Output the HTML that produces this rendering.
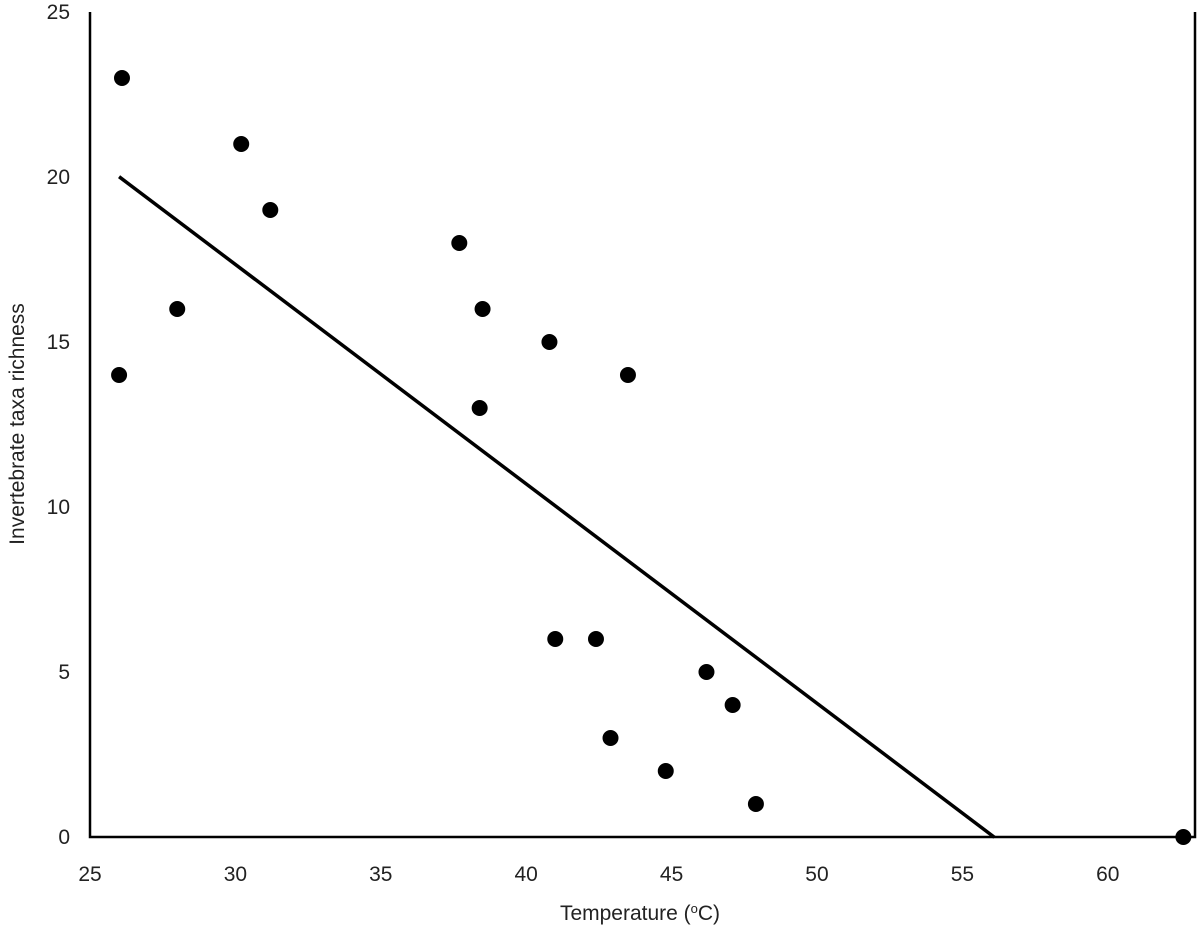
<!DOCTYPE html>
<html><head><meta charset="utf-8"><style>
html,body{margin:0;padding:0;background:#fff;}
svg{display:block;font-family:"Liberation Sans","DejaVu Sans",sans-serif;}
</style></head><body>
<svg id="chart" width="1200" height="928">
<g id="axes"></g><g id="marks"></g>
<text x="640" y="920" font-size="21" text-anchor="middle" fill="#222">Temperature (<tspan font-size="13" dy="-7">o</tspan><tspan dy="7">C)</tspan></text>
<text transform="translate(24,424) rotate(-90)" font-size="21" text-anchor="middle" fill="#222">Invertebrate taxa richness</text>
</svg>
<script>
const xTicks=[25,30,35,40,45,50,55,60];
const yTicks=[0,5,10,15,20,25];
const temps=[26,26.1,28,30.2,31.2,37.7,38.5,38.4,40.8,41,43.5,42.4,42.9,44.8,46.2,47.1,47.9,62.6];
const richness=[14,23,16,21,19,18,16,13,15,6,14,6,3,2,5,4,1,0];
const trendSlope=-0.665;
const trendIntercept=37.3;
const trendRange=[26,56.1];
const X0=90,X1=1195,XMIN=25,XMAX=63,Y0=837,Y1=12,YMIN=0,YMAX=25;
const sx=v=>X0+(v-XMIN)*(X1-X0)/(XMAX-XMIN);
const sy=v=>Y0-(v-YMIN)*(Y0-Y1)/(YMAX-YMIN);
const NS="http://www.w3.org/2000/svg";
const axes=document.getElementById('axes'),marks=document.getElementById('marks');
function mk(tag,attrs,parent){const e=document.createElementNS(NS,tag);for(const k in attrs)e.setAttribute(k,attrs[k]);parent.appendChild(e);return e;}
const fr=mk('path',{d:`M${X0},${Y1}V${Y0}H${X1}V${Y1}`,fill:'none',stroke:'#000','stroke-width':2.5},axes);


xTicks.forEach(t=>{const e=mk('text',{x:sx(t),y:Y0+44,'font-size':21,'text-anchor':'middle',fill:'#222'},axes);e.textContent=t;

});
yTicks.forEach(t=>{const e=mk('text',{x:70,y:sy(t)+7,'font-size':21,'text-anchor':'end',fill:'#222'},axes);e.textContent=t;

});
const ln=mk('line',{x1:sx(trendRange[0]),y1:sy(trendSlope*trendRange[0]+trendIntercept),x2:sx(trendRange[1]),y2:sy(trendSlope*trendRange[1]+trendIntercept),stroke:'#000','stroke-width':3.5},marks);


temps.forEach((t,i)=>{const c=mk('circle',{cx:sx(t),cy:sy(richness[i]),r:8,fill:'#000'},marks);

});
</script>
</body></html>
